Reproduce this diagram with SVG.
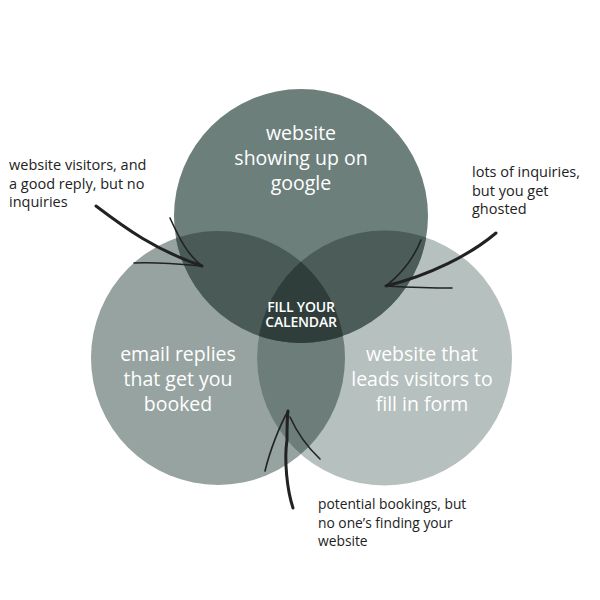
<svg xmlns="http://www.w3.org/2000/svg" width="600" height="600" viewBox="0 0 600 600">
<style>
.lbl{font-family:"Open Sans","Liberation Sans",sans-serif;font-size:19.5px;fill:#ffffff;text-anchor:middle}
.ctr{font-family:"Open Sans","Liberation Sans",sans-serif;font-size:14px;font-weight:600;fill:#ffffff;text-anchor:middle;letter-spacing:-0.2px}
.note{font-family:"Open Sans","Liberation Sans",sans-serif;font-size:14.5px;fill:#222222}
.note2{font-family:"Open Sans","Liberation Sans",sans-serif;font-size:13.8px;fill:#222222}
.shaft{fill:none;stroke:#222222;stroke-width:3;stroke-linecap:round}
.barb{fill:none;stroke:#222222;stroke-width:1.6;stroke-linecap:round}
</style>
<defs>
<clipPath id="cL"><circle cx="218" cy="358" r="127"/></clipPath>
<clipPath id="cR"><circle cx="384.5" cy="358" r="127.5"/></clipPath>
</defs>
<rect width="600" height="600" fill="#ffffff"/>
<g id="circle-email">
<circle cx="218" cy="358" r="127" fill="#97a3a0"/>
</g>
<g id="circle-form">
<circle cx="384.5" cy="358" r="127.5" fill="#b6c0be"/>
</g>
<g id="overlap-bottom" clip-path="url(#cL)">
<circle cx="384.5" cy="358" r="127.5" fill="#6d7e7a"/>
</g>
<g id="circle-google">
<circle cx="301" cy="216" r="127" fill="#6d7f7b"/>
</g>
<g id="overlap-left" clip-path="url(#cL)">
<circle cx="301" cy="216" r="127" fill="#495a57"/>
</g>
<g id="overlap-right" clip-path="url(#cR)">
<circle cx="301" cy="216" r="127" fill="#4b5c59"/>
</g>
<g id="center" clip-path="url(#cR)">
<g clip-path="url(#cL)">
<circle cx="301" cy="216" r="127" fill="#2f3d3b"/>
</g>
</g>
<g id="labels">
<text class="lbl" x="301" y="140">website</text>
<text class="lbl" x="301" y="165">showing up on</text>
<text class="lbl" x="301" y="190">google</text>
<text class="lbl" x="178" y="361">email replies</text>
<text class="lbl" x="178" y="386">that get you</text>
<text class="lbl" x="178" y="411">booked</text>
<text class="lbl" x="422" y="361">website that</text>
<text class="lbl" x="422" y="386">leads visitors to</text>
<text class="lbl" x="422" y="411">fill in form</text>
<text class="ctr" x="301" y="312">FILL YOUR</text>
<text class="ctr" x="301" y="327">CALENDAR</text>
</g>
<g id="notes">
<text class="note" x="9" y="170">website visitors, and</text>
<text class="note" x="9" y="189">a good reply, but no</text>
<text class="note" x="9" y="207">inquiries</text>
<text class="note" x="472" y="177">lots of inquiries,</text>
<text class="note" x="472" y="196">but you get</text>
<text class="note" x="472" y="214">ghosted</text>
<text class="note2" x="318" y="509">potential bookings, but</text>
<text class="note2" x="318" y="528">no one’s finding your</text>
<text class="note2" x="318" y="546">website</text>
</g>
<g id="connectors">
<path class="shaft" d="M96,206 C125,228 155,250 202,266"/>
<path class="barb" d="M170,218 C180,240 188,255 202,266"/>
<path class="barb" d="M134,263 C160,262 180,264 202,266"/>
<path class="shaft" d="M496,233 C470,255 430,275 386,286"/>
<path class="barb" d="M421,240 C413,260 400,275 386,286"/>
<path class="barb" d="M452,288 C430,288 405,287 386,286"/>
<path class="shaft" d="M293,508 C287,490 284,460 287,440 C287,425 287,418 288,411"/>
<path class="barb" d="M265,471 C270,450 280,425 288,411"/>
<path class="barb" d="M320,459 C305,445 295,428 290,417"/>
</g>
</svg>
